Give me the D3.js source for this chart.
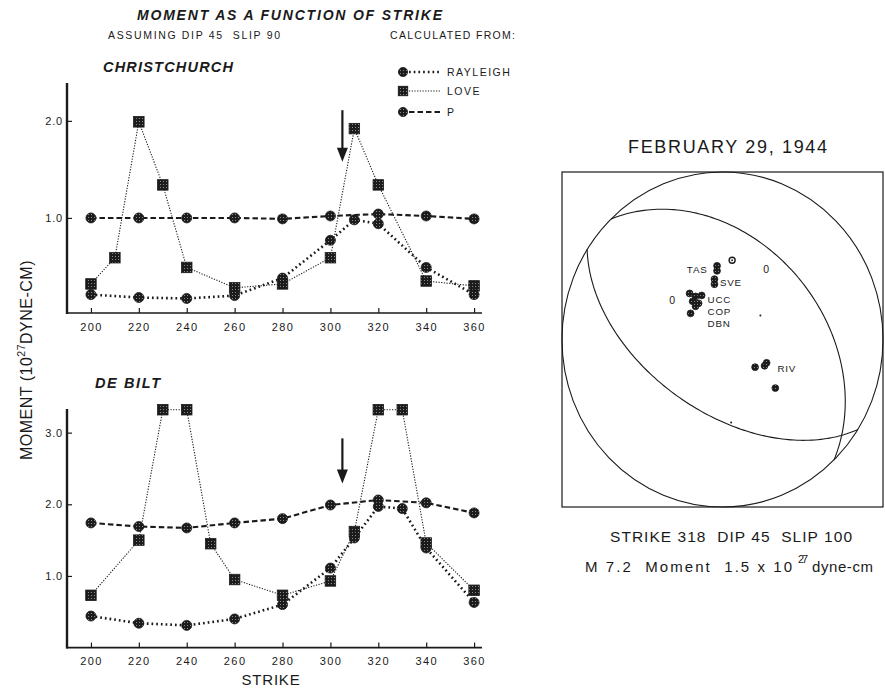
<!DOCTYPE html>
<html>
<head>
<meta charset="utf-8">
<title>Moment as a function of strike</title>
<script src="https://cdn.jsdelivr.net/npm/d3@7/dist/d3.min.js"></script>
<style>
  html, body { margin: 0; background: #fff; }
  svg { display: block; }
  text { font-family: "Liberation Sans", Arial, Helvetica, sans-serif; fill: #1a1a1a; white-space: pre; }
</style>
</head>
<body>
<svg id="fig" width="885" height="688"></svg>
<script>
// ---- Strike axis -------------------------------------------------------
const strikeTicks = [200, 220, 240, 260, 280, 300, 320, 340, 360];

// ---- Christchurch: moment (10^27 dyne-cm) vs. strike ---------------------
const chRayleighStrike = [200, 220, 240, 260, 280, 300, 310, 320, 340, 360];
const chRayleigh       = [0.21, 0.18, 0.17, 0.20, 0.38, 0.77, 0.98, 0.94, 0.49, 0.21];
const chLoveStrike     = [200, 210, 220, 230, 240, 260, 280, 300, 310, 320, 340, 360];
const chLove           = [0.32, 0.59, 1.99, 1.34, 0.49, 0.28, 0.32, 0.59, 1.92, 1.34, 0.35, 0.30];
const chPStrike        = [200, 220, 240, 260, 280, 300, 320, 340, 360];
const chP              = [1.00, 1.00, 1.00, 1.00, 0.99, 1.02, 1.04, 1.02, 0.99];
const chYTicks         = [1.0, 2.0];

// ---- De Bilt ---------------------------------------------------------------
const dbRayleighStrike = [200, 220, 240, 260, 280, 300, 310, 320, 330, 340, 360];
const dbRayleigh       = [0.44, 0.34, 0.31, 0.40, 0.60, 1.11, 1.53, 1.97, 1.94, 1.39, 0.63];
const dbLoveStrike     = [200, 220, 230, 240, 250, 260, 280, 300, 310, 320, 330, 340, 360];
const dbLove           = [0.73, 1.50, 3.32, 3.32, 1.45, 0.95, 0.73, 0.93, 1.62, 3.32, 3.32, 1.46, 0.80];
const dbPStrike        = [200, 220, 240, 260, 280, 300, 320, 340, 360];
const dbP              = [1.74, 1.69, 1.67, 1.74, 1.80, 1.99, 2.06, 2.02, 1.88];
const dbYTicks         = [1.0, 2.0, 3.0];

// preferred strike marked by the arrows, with arrow extent in moment units
const chArrow = { strike: 305, from: 2.11, to: 1.58 };
const dbArrow = { strike: 305, from: 2.92, to: 2.29 };

// ---- Focal mechanism -------------------------------------------------------
const focalStrike = 318, focalDip = 45, focalSlip = 100;
const magnitude = "7.2", momentValue = "1.5", momentExp = "27";
// nodal planes as plotted on the net: [strike, dip] in degrees
const nodalPlanes = [[316, 40], [122.5, 54]];
// station polarities, east/north on the unit (equal-area, lower hemisphere) net
const stationDots = [
  [-0.034, 0.440], [-0.034, 0.410],                       // TAS
  [-0.050, 0.360], [-0.050, 0.330],                       // SVE
  [-0.205, 0.275], [-0.168, 0.257], [-0.130, 0.263],
  [-0.186, 0.228], [-0.149, 0.216], [-0.168, 0.198],      // UCC / COP / DBN
  [-0.199, 0.156],
  [0.203, -0.165], [0.262, -0.157], [0.275, -0.139],      // RIV
  [0.329, -0.290]
];
const openDots = [[0.060, 0.473]];
const specks = [[0.236, 0.144], [0.054, -0.496]];
const nullMarks = [[0.272, 0.395], [-0.314, 0.210]];
const stationNames = [
  { name: "TAS", e: -0.093, n: 0.398, anchor: "end" },
  { name: "SVE", e: -0.016, n: 0.318, anchor: "start" },
  { name: "UCC", e: -0.093, n: 0.215, anchor: "start" },
  { name: "COP", e: -0.093, n: 0.146, anchor: "start" },
  { name: "DBN", e: -0.093, n: 0.077, anchor: "start" },
  { name: "RIV", e: 0.342, n: -0.192, anchor: "start" }
];

// ===========================================================================
const svg = d3.select("#fig");
const ink = "#1a1a1a";

// speckled fill for the plotting symbols
const defs = svg.append("defs");
const pat = defs.append("pattern").attr("id", "speckle")
  .attr("width", 3).attr("height", 3).attr("patternUnits", "userSpaceOnUse");
pat.append("rect").attr("width", 3).attr("height", 3).attr("fill", "#1c1c1c");
pat.append("rect").attr("x", 1).attr("y", 1).attr("width", 1).attr("height", 1).attr("fill", "#8a8a8a");

function addText(parent, str, px, py, o = {}) {
  const t = parent.append("text").attr("x", px).attr("y", py).text(str)
    .style("font-size", (o.size || 11) + "px");
  if (o.anchor) t.attr("text-anchor", o.anchor);
  if (o.italic) t.style("font-style", "italic");
  if (o.bold) t.style("font-weight", "bold");
  if (o.ls != null) t.style("letter-spacing", o.ls + "px");
  if (o.len) t.attr("textLength", o.len).attr("lengthAdjust", "spacing");
  return t;
}

const zip = (xs, ys) => xs.map((s, i) => [s, ys[i]]);

const seriesStyle = {
  rayleigh: { w: 2.6, dash: "1.7 3.0" },
  love:     { w: 1.1, dash: "1.2 1.5" },
  p:        { w: 2.1, dash: "5.5 3" }
};

function circleMark(g, cx, cy, r = 5) {
  g.append("circle").attr("cx", cx).attr("cy", cy).attr("r", r)
    .attr("fill", "url(#speckle)").attr("stroke", ink).attr("stroke-width", 0.8);
}
function squareMark(g, cx, cy, s = 10.5) {
  g.append("rect").attr("x", cx - s / 2).attr("y", cy - s / 2).attr("width", s).attr("height", s)
    .attr("fill", "url(#speckle)").attr("stroke", ink).attr("stroke-width", 0.8);
}

// ---- headings --------------------------------------------------------------
addText(svg, "MOMENT AS A FUNCTION OF STRIKE", 137, 20, { size: 14, italic: true, bold: true, len: 305 });
addText(svg, "ASSUMING DIP 45  SLIP 90", 108, 38.5, { size: 10.5, len: 172 });
addText(svg, "CALCULATED FROM:", 390, 38.5, { size: 10.5, len: 125 });

// legend
const legend = svg.append("g");
const legendRows = [
  { key: "rayleigh", label: "RAYLEIGH", y: 72, mark: "circle" },
  { key: "love", label: "LOVE", y: 91, mark: "square" },
  { key: "p", label: "P", y: 112, mark: "circle" }
];
legendRows.forEach(r => {
  const st = seriesStyle[r.key];
  legend.append("line").attr("x1", 409).attr("x2", 441).attr("y1", r.y).attr("y2", r.y)
    .attr("stroke", ink).attr("stroke-width", st.w).attr("stroke-dasharray", st.dash);
  if (r.mark === "circle") circleMark(legend, 403, r.y, 4.6); else squareMark(legend, 403, r.y, 9.5);
  addText(legend, r.label, 447, r.y + 3.8, { size: 10.5, ls: 1.5 });
});

// ---- moment panels -----------------------------------------------------------
const xS = d3.scaleLinear().domain([190, 363.3]).range([67, 482]);

function drawPanel(cfg) {
  const g = svg.append("g");
  const y = cfg.y;
  const base = cfg.axisY;
  const line = d3.line().x(d => xS(d[0])).y(d => y(d[1]));

  // axis lines
  g.append("line").attr("x1", xS.range()[0]).attr("x2", xS.range()[0])
    .attr("y1", y.range()[1]).attr("y2", base + 1)
    .attr("stroke", ink).attr("stroke-width", 2.4);
  g.append("line").attr("x1", xS.range()[0]).attr("x2", xS.range()[1])
    .attr("y1", base).attr("y2", base)
    .attr("stroke", ink).attr("stroke-width", 1.6);

  const xa = g.append("g").attr("transform", `translate(0,${base})`)
    .call(d3.axisBottom(xS).tickValues(strikeTicks).tickSizeInner(-5).tickSizeOuter(0)
      .tickPadding(10).tickFormat(d3.format("d")));
  xa.attr("font-family", null).attr("font-size", null);
  xa.select(".domain").remove();
  xa.selectAll("line").attr("stroke", ink).attr("stroke-width", 1.2);
  xa.selectAll("text").attr("fill", ink).style("font-size", "11px").style("letter-spacing", "1.4px");

  const ya = g.append("g").attr("transform", `translate(${xS.range()[0]},0)`)
    .call(d3.axisLeft(y).tickValues(cfg.yTicks).tickSizeInner(-5).tickSizeOuter(0)
      .tickPadding(4).tickFormat(d3.format(".1f")));
  ya.attr("font-family", null).attr("font-size", null);
  ya.select(".domain").remove();
  ya.selectAll("line").attr("stroke", ink).attr("stroke-width", 1.2);
  ya.selectAll("text").attr("fill", ink).style("font-size", "11px").style("letter-spacing", "0.8px");

  // series lines
  const series = [
    { key: "love", pts: zip(cfg.loveS, cfg.love), mark: "square" },
    { key: "p", pts: zip(cfg.pS, cfg.p), mark: "circle" },
    { key: "rayleigh", pts: zip(cfg.rayS, cfg.ray), mark: "circle" }
  ];
  series.forEach(s => {
    const st = seriesStyle[s.key];
    g.append("path").attr("d", line(s.pts)).attr("fill", "none")
      .attr("stroke", ink).attr("stroke-width", st.w).attr("stroke-dasharray", st.dash);
  });
  series.forEach(s => {
    s.pts.forEach(p => {
      if (s.mark === "square") squareMark(g, xS(p[0]), y(p[1]));
      else circleMark(g, xS(p[0]), y(p[1]));
    });
  });

  // arrow at the preferred strike
  const ax = xS(cfg.arrow.strike), ty = y(cfg.arrow.to);
  g.append("line").attr("x1", ax).attr("x2", ax).attr("y1", y(cfg.arrow.from)).attr("y2", ty - 12)
    .attr("stroke", ink).attr("stroke-width", 2.2);
  g.append("path").attr("d", `M${ax - 5.5},${ty - 14}L${ax + 5.5},${ty - 14}L${ax},${ty}Z`).attr("fill", ink);

  addText(svg, cfg.title, cfg.titleX, cfg.titleY, { size: 14.5, italic: true, bold: true, len: cfg.titleLen });
}

drawPanel({
  title: "CHRISTCHURCH", titleX: 103, titleY: 72, titleLen: 130,
  y: d3.scaleLinear().domain([0, 2.39]).range([315, 83]),
  axisY: 313,
  yTicks: chYTicks,
  rayS: chRayleighStrike, ray: chRayleigh,
  loveS: chLoveStrike, love: chLove,
  pS: chPStrike, p: chP,
  arrow: chArrow
});

drawPanel({
  title: "DE BILT", titleX: 95, titleY: 388, titleLen: 65,
  y: d3.scaleLinear().domain([0, 3.33]).range([647.6, 409]),
  axisY: 647.6,
  yTicks: dbYTicks,
  rayS: dbRayleighStrike, ray: dbRayleigh,
  loveS: dbLoveStrike, love: dbLove,
  pS: dbPStrike, p: dbP,
  arrow: dbArrow
});

// shared axis titles
const yl = svg.append("text").attr("transform", "translate(32,360) rotate(-90)")
  .attr("text-anchor", "middle").style("font-size", "16px").style("letter-spacing", "0.5px");
yl.append("tspan").text("MOMENT (10");
yl.append("tspan").text(momentExp).style("font-size", "10.5px").attr("dy", -7);
yl.append("tspan").text("DYNE-CM)").attr("dy", 7);

addText(svg, "STRIKE", 271, 685, { size: 15, anchor: "middle", ls: 0.8 });

// ---- focal mechanism (equal-area, lower hemisphere) -------------------------
const rad = d => d * Math.PI / 180;
const fx = d3.scaleLinear().domain([-1, 1]).range([562, 883]);
const fy = d3.scaleLinear().domain([-1, 1]).range([507, 172]);

// great-circle trace of a plane, projected onto the unit net
function planeTrace(strike, dip) {
  const s = rad(strike), d = rad(dip);
  const pts = [];
  for (let t = 0; t <= 180; t += 1.5) {
    const a = rad(t);
    const north = Math.cos(a) * Math.cos(s) + Math.sin(a) * Math.cos(d) * Math.cos(s + Math.PI / 2);
    const east = Math.cos(a) * Math.sin(s) + Math.sin(a) * Math.cos(d) * Math.sin(s + Math.PI / 2);
    const down = Math.sin(a) * Math.sin(d);
    const plunge = Math.asin(Math.min(1, down));
    const r = Math.SQRT2 * Math.sin((Math.PI / 2 - plunge) / 2);
    const h = Math.hypot(north, east) || 1;
    pts.push([r * east / h, r * north / h]);
  }
  return pts;
}

const fm = svg.append("g");
addText(fm, "FEBRUARY 29, 1944", 628, 153, { size: 18, len: 199 });

fm.append("rect").attr("x", fx(-1)).attr("y", fy(1))
  .attr("width", fx(1) - fx(-1)).attr("height", fy(-1) - fy(1))
  .attr("fill", "none").attr("stroke", ink).attr("stroke-width", 1.2);
fm.append("ellipse").attr("cx", fx(0)).attr("cy", fy(0))
  .attr("rx", fx(1) - fx(0)).attr("ry", fy(-1) - fy(0))
  .attr("fill", "none").attr("stroke", ink).attr("stroke-width", 1.1);

const netLine = d3.line().x(d => fx(d[0])).y(d => fy(d[1]));
nodalPlanes.forEach(([s, d]) => {
  fm.append("path").attr("d", netLine(planeTrace(s, d))).attr("fill", "none")
    .attr("stroke", ink).attr("stroke-width", 1.1);
});

stationDots.forEach(p => {
  fm.append("circle").attr("cx", fx(p[0])).attr("cy", fy(p[1])).attr("r", 3.4)
    .attr("fill", "url(#speckle)").attr("stroke", ink).attr("stroke-width", 0.8);
});
openDots.forEach(p => {
  fm.append("circle").attr("cx", fx(p[0])).attr("cy", fy(p[1])).attr("r", 3)
    .attr("fill", "#fff").attr("stroke", ink).attr("stroke-width", 1.4);
  fm.append("circle").attr("cx", fx(p[0])).attr("cy", fy(p[1])).attr("r", 0.9).attr("fill", ink);
});
specks.forEach(p => {
  fm.append("circle").attr("cx", fx(p[0])).attr("cy", fy(p[1])).attr("r", 1).attr("fill", ink);
});
nullMarks.forEach(p => addText(fm, "0", fx(p[0]), fy(p[1]), { size: 10.5, anchor: "middle" }));
stationNames.forEach(s => addText(fm, s.name, fx(s.e), fy(s.n), { size: 9.8, anchor: s.anchor, ls: 0.8 }));

addText(fm, `STRIKE ${focalStrike}  DIP ${focalDip}  SLIP ${focalSlip}`, 610, 542, { size: 15.5, len: 242 });
addText(fm, `M ${magnitude}  Moment  ${momentValue} x 10`, 585, 572, { size: 15, len: 207 });
addText(fm, momentExp, 798, 563, { size: 11, len: 10 });
addText(fm, "dyne-cm", 812, 572, { size: 15, len: 61 });
</script>
</body>
</html>
